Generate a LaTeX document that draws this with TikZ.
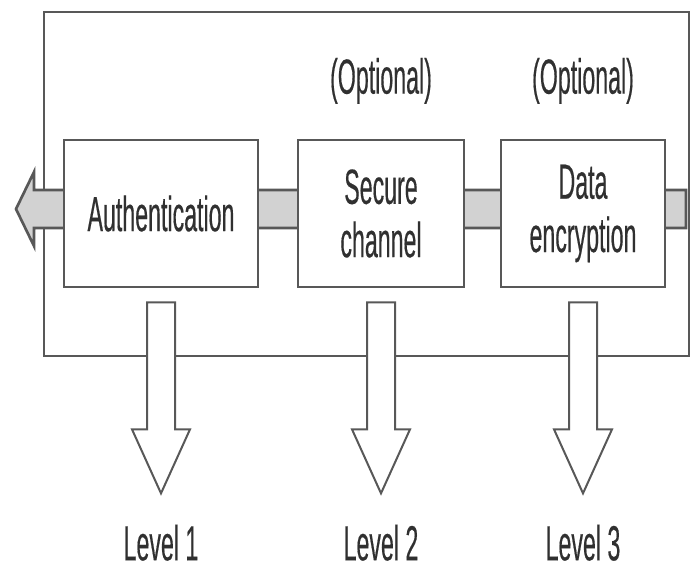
\documentclass[tikz,border=0pt]{standalone}
\usepackage{fontspec}
\setmainfont{Liberation Sans}[FakeStretch=0.47,FakeBold=0.3]
\usetikzlibrary{calc,positioning,backgrounds}
\definecolor{linegray}{RGB}{88,88,88}
\definecolor{bargray}{RGB}{210,210,210}
\definecolor{textgray}{RGB}{48,48,48}

\begin{document}
\begin{tikzpicture}[x=0.75pt,y=-0.75pt,
  box/.style={draw=linegray,line width=2pt,fill=white,minimum height=110.25pt,
    align=center,inner sep=0pt,text=textgray,font=\fontsize{37}{40}\selectfont},
  lbl/.style={inner sep=0pt,text=textgray,font=\fontsize{37}{40}\selectfont},
  chan/.style={draw=linegray,line width=2pt,fill=bargray,line join=miter},
  downarrow/.style={draw=linegray,line width=1.5pt,fill=white,line join=miter}]
\useasboundingbox (0,0) rectangle (692,567);
\node[box,minimum width=145.5pt] (auth) at (161,213.5) {Authentication};
\node[box,minimum width=124.5pt,right=28pt of auth] (sec) {Secure\\channel};
\node[box,minimum width=123pt,right=25.75pt of sec] (data) {Data\\encryption};
\node[lbl,anchor=base] (opt2) at ($(sec.north)+(0,-45)$) {(Optional)};
\node[lbl,anchor=base] (opt3) at ($(data.north)+(0,-45)$) {(Optional)};
% frame and channel behind the boxes
\coordinate (barL) at ($(auth.west)+(-46.67,-4.5)$);
\coordinate (barR) at ($(data.east)+(19.67,-4.5)$);
\begin{scope}[on background layer]
  \draw[linegray,line width=2pt] (44,12) rectangle (689,356);
  \draw[chan] ($(barR)+(0,-19)$) -- ($(barL)+(18,-19)$) -- ($(barL)+(18,-37)$)
    -- (barL) -- ($(barL)+(18,37)$) -- ($(barL)+(18,19)$) -- ($(barR)+(0,19)$) -- cycle;
\end{scope}
% levels
\foreach \b/\n in {auth/1,sec/2,data/3}{
  \node[lbl,anchor=base] (lv\n) at ($(\b.south)+(0,272)$) {Level \n};
  \draw[downarrow] ($(\b.south)+(-14,14)$) -- ++(0,127) -- ++(-15,0) -- ++(29,64)
    -- ++(29,-64) -- ++(-15,0) -- ++(0,-127) -- cycle;
}
\end{tikzpicture}
\end{document}
